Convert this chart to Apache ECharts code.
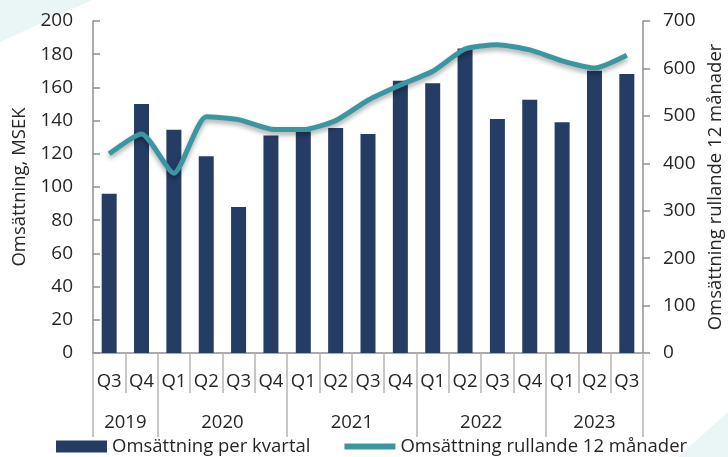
<!DOCTYPE html>
<html>
<head>
<meta charset="utf-8">
<script src="https://cdn.jsdelivr.net/npm/echarts@6/dist/echarts.min.js"></script>
<style>
  html, body { margin: 0; padding: 0; background: #fff; }
  #chart { width: 728px; height: 457px; }
</style>
</head>
<body>
<div id="chart"></div>
<script>
// kvartal och år
const quarters = ['Q3', 'Q4', 'Q1', 'Q2', 'Q3', 'Q4', 'Q1', 'Q2', 'Q3', 'Q4', 'Q1', 'Q2', 'Q3', 'Q4', 'Q1', 'Q2', 'Q3'];
const years = ['2019', '2020', '2021', '2022', '2023'];
const yearCounts = [2, 4, 4, 4, 3];
// Omsättning per kvartal, MSEK
const perKvartal = [96, 150, 134.5, 118.5, 88, 131, 133.5, 135.5, 132, 164, 162.5, 183.5, 141, 152.5, 139, 170, 168];
// Omsättning rullande 12 månader
const rullande = [420, 462, 379, 498, 492, 472, 471, 490, 533, 565, 594, 641, 650, 639, 616, 601, 628];

const leftTicks = { min: 0, max: 200, interval: 20 };
const rightTicks = { min: 0, max: 700, interval: 100 };

const textColor = '#262626';
const axisColor = '#8f8f8f';
const font = '"Open Sans", sans-serif';

// gränser och mittpunkter för årsgrupperna (i halva kategorier)
const yearBounds = [0];
const yearCenters = [];
yearCounts.forEach((n) => {
  const start = yearBounds[yearBounds.length - 1];
  yearCenters.push(start + n);
  yearBounds.push(start + 2 * n);
});

const myChart = echarts.init(document.getElementById('chart'));
myChart.setOption({
  animation: false,
  backgroundColor: '#fff',
  textStyle: { fontFamily: font },
  graphic: [
    {
      type: 'polygon',
      silent: true,
      z: -10,
      shape: { points: [[0, 0], [92, 0], [0, 42]] },
      style: { fill: '#eaf5f5' },
    },
    {
      type: 'polygon',
      silent: true,
      z: -10,
      shape: { points: [[728, 457], [678, 457], [728, 412]] },
      style: { fill: '#eaf5f5' },
    },
  ],
  grid: {
    left: 93,
    right: 85,
    top: 21,
    bottom: 104,
    containLabel: false,
    outerBoundsMode: 'none',
  },
  legend: {
    left: 56,
    top: 437,
    padding: 0,
    itemWidth: 51,
    itemHeight: 12,
    itemGap: 34,
    textStyle: { fontSize: 18.5, color: textColor, fontFamily: font },
    data: [
      { name: 'Omsättning per kvartal', icon: 'rect' },
      { name: 'Omsättning rullande 12 månader', icon: 'path://M0,0 M0,3 L51,3 L51,9 L0,9 Z M0,12' },
    ],
  },
  xAxis: [
    {
      type: 'category',
      data: quarters,
      boundaryGap: true,
      axisLine: { lineStyle: { color: axisColor, width: 1.5 } },
      axisTick: { show: true, interval: 0, length: 40, lineStyle: { color: '#b5b5b5', width: 1.5 } },
      axisLabel: { interval: 0, margin: 19, fontSize: 18.5, color: textColor, fontFamily: font },
    },
    {
      type: 'value',
      position: 'bottom',
      min: 0,
      max: quarters.length * 2,
      splitLine: { show: false },
      axisLine: { show: false },
      axisTick: {
        show: true,
        customValues: yearBounds,
        length: 84,
        lineStyle: { color: '#b5b5b5', width: 1.5 },
      },
      axisLabel: {
        customValues: yearCenters,
        margin: 60,
        fontSize: 18.5,
        color: textColor,
        fontFamily: font,
        formatter(value) {
          const i = yearCenters.indexOf(value);
          return i >= 0 ? years[i] : '';
        },
      },
    },
  ],
  yAxis: [
    {
      type: 'value',
      min: leftTicks.min,
      max: leftTicks.max,
      interval: leftTicks.interval,
      name: 'Omsättning, MSEK',
      nameLocation: 'middle',
      nameGap: 62,
      nameRotate: 90,
      nameTextStyle: { fontSize: 18.5, color: textColor, fontFamily: font },
      splitLine: { show: false },
      axisLine: { show: true, lineStyle: { color: axisColor, width: 1.5 } },
      axisTick: { show: true, inside: true, length: 7, lineStyle: { color: axisColor, width: 1.5 } },
      axisLabel: { margin: 20, fontSize: 19, color: textColor, fontFamily: font },
    },
    {
      type: 'value',
      position: 'right',
      min: rightTicks.min,
      max: rightTicks.max,
      interval: rightTicks.interval,
      name: 'Omsättning rullande 12 månader',
      nameLocation: 'middle',
      nameGap: 62,
      nameRotate: 90,
      nameTextStyle: { fontSize: 18.5, color: textColor, fontFamily: font },
      splitLine: { show: false },
      axisLine: { show: true, lineStyle: { color: axisColor, width: 1.5 } },
      axisTick: { show: true, length: 7, lineStyle: { color: axisColor, width: 1.5 } },
      axisLabel: { margin: 20, fontSize: 19, color: textColor, fontFamily: font },
    },
  ],
  series: [
    {
      name: 'Omsättning per kvartal',
      type: 'bar',
      xAxisIndex: 0,
      yAxisIndex: 0,
      barWidth: 15,
      data: perKvartal,
      itemStyle: { color: '#253c64' },
    },
    {
      name: 'Omsättning rullande 12 månader',
      type: 'line',
      xAxisIndex: 0,
      yAxisIndex: 1,
      symbol: 'none',
      smooth: 0.2,
      data: rullande,
      z: 5,
      lineStyle: {
        color: '#3a97a1',
        width: 5,
        shadowColor: 'rgba(0, 0, 0, 0.35)',
        shadowBlur: 5,
        shadowOffsetY: 3,
      },
      itemStyle: { color: '#3a97a1' },
    },
  ],
});
</script>
</body>
</html>
